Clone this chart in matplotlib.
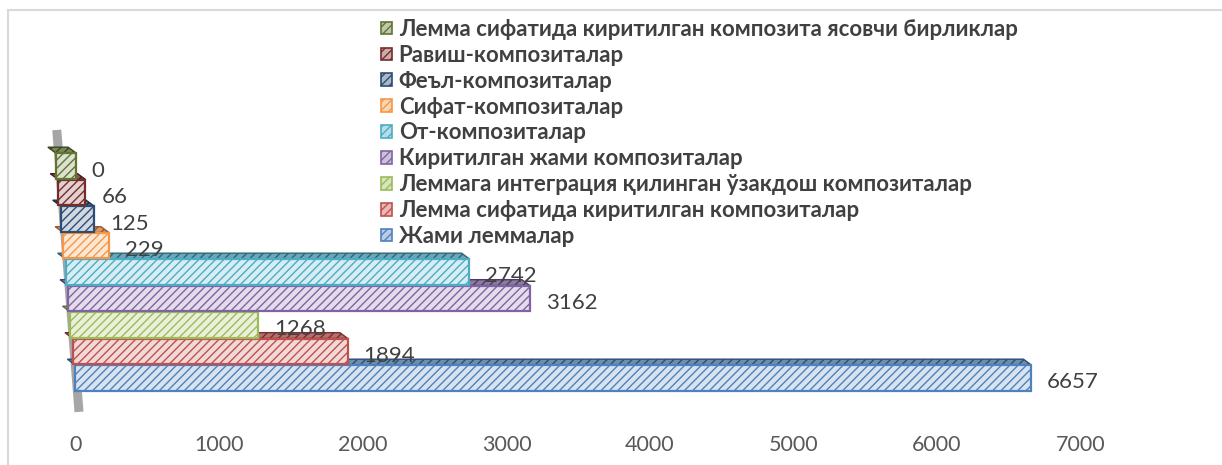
import matplotlib.pyplot as plt
import numpy as np
from matplotlib.patches import Patch, Rectangle
from matplotlib.colors import to_rgb

plt.rcParams['font.family'] = ['Lato', 'DejaVu Sans']
plt.rcParams['hatch.linewidth'] = 1.0

# series, bottom bar first
labels = ['Жами леммалар',
          'Лемма сифатида киритилган композиталар',
          'Леммага интеграция қилинган ўзакдош композиталар',
          'Киритилган жами композиталар',
          'От-композиталар',
          'Сифат-композиталар',
          'Феъл-композиталар',
          'Равиш-композиталар',
          'Лемма сифатида киритилган композита ясовчи бирликлар']
values = [6657, 1894, 1268, 3162, 2742, 229, 125, 66, 0]
colors = ['#4F81BD', '#C0504D', '#9BBB59', '#8064A2', '#4BACC6',
          '#F79646', '#2C4D75', '#772C2A', '#5F7530']
ticks = [0, 1000, 2000, 3000, 4000, 5000, 6000, 7000]

W, H = 1222, 465
fig = plt.figure(figsize=(W / 100, H / 100), dpi=100)

pxu = 0.1435         # pixels per unit on x
x0px = 76            # pixel of x=0
xmin, xmax = -400, 7900
ypx = 26.5           # pixels per bar slot
ymin, ymax = -1.774, 13.887
ax = fig.add_axes([(x0px + xmin * pxu) / W, (H - 425) / H,
                   (xmax - xmin) * pxu / W, 415 / H])
ax.set_xlim(xmin, xmax)
ax.set_ylim(ymin, ymax)

def tint(c, f):
    r = np.array(to_rgb(c))
    return tuple(r + (1 - r) * f)

def shade(c, f):
    return tuple(np.array(to_rgb(c)) * f)

h = 0.98
skew = 17            # perspective shift of bar starts per slot (data units)
dx, dy = -55, 0.22   # depth of top face
for i, (v, c) in enumerate(zip(values, colors)):
    left = -i * skew - 5
    z = 2 + i
    ytop = i + h / 2
    ax.fill([left, v, v + dx, left + dx], [ytop, ytop, ytop + dy, ytop + dy],
            facecolor=tint(shade(c, 0.8), 0.25), edgecolor=shade(c, 0.6),
            hatch='////', linewidth=1.0, zorder=z)
    ax.barh(i, v - left, left=left, height=h, color=tint(c, 0.78),
            edgecolor=c, hatch='////', linewidth=1.6, zorder=z)
    ax.text(v + 110, i - 0.17, str(v), fontsize=16,
            color='#404040', va='center', ha='left', zorder=20)

# gray wall of the 3D chart
ax.plot([-134, 21], [9.36, -1.28], color='#A6A6A6', lw=6.5,
        solid_capstyle='butt', zorder=1)

ax.set_xticks(ticks)
ax.set_xticklabels([str(t) for t in ticks], fontsize=15.5, color='#595959')
ax.tick_params(axis='x', length=0, pad=7)
ax.set_yticks([])
for s in ax.spines.values():
    s.set_visible(False)

handles = [Patch(facecolor=tint(c, 0.6), edgecolor=c, hatch='////', lw=1.2)
           for c in colors]
fig.legend(handles[::-1], labels[::-1], loc='upper left',
           bbox_to_anchor=(372 / W, 1 - 10 / H), frameon=False,
           prop={'weight': 'bold', 'size': 16}, labelcolor='#404040',
           handlelength=0.5, handleheight=0.5, handletextpad=0.3,
           labelspacing=0.22, borderaxespad=0)

# chart border
fig.add_artist(Rectangle((8 / W, -0.1), 1.2, 1 - 10 / H + 0.1,
                         transform=fig.transFigure, fill=False,
                         edgecolor='#D9D9D9', lw=1.5))

fig.savefig('out.png', dpi=100)
